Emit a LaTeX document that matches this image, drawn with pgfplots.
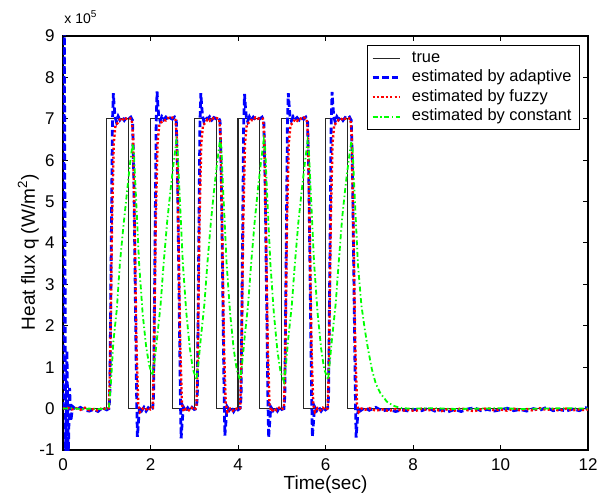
\documentclass[border=0pt]{standalone}
\usepackage{fontspec}
\setmainfont{Liberation Sans}
\usepackage{pgfplots}
\pgfplotsset{compat=1.18}

\definecolor{mblue}{rgb}{0,0,1}
\definecolor{mred}{rgb}{1,0,0}
\definecolor{mgreen}{rgb}{0,1,0}

\begin{document}
\begin{tikzpicture}
\useasboundingbox (-31.5pt,-24.5pt) rectangle (268.5pt,225pt);
\begin{axis}[
    at={(0,0)}, anchor=south west,
    scale only axis, width=262.5pt, height=207pt,
    xmin=0, xmax=12, ymin=-1, ymax=9,
    xtick={0,2,...,12}, ytick={-1,0,...,9},
    tick align=inside, major tick length=2.5pt,
    tick style={black, line width=0.5pt},
    axis line style={line width=0.8pt},
    /pgf/number format/assume math mode=true,
    ticklabel style={font=\fontsize{8.5}{10}\selectfont},
    xticklabel style={anchor=center, yshift=-7.5pt},
    yticklabel style={anchor=east, inner sep=0pt, xshift=-4pt},
    xlabel={Time(sec)},
    ylabel={Heat flux q (W/m\textsuperscript{2})},
    xlabel style={font=\fontsize{9.5}{11}\selectfont, at={(axis description cs:0.5,-0.0845)}, anchor=center},
    ylabel style={font=\fontsize{9.5}{11}\selectfont, at={(axis description cs:-0.066,0.478)}, anchor=center},
    legend cell align=left,
    legend image code/.code={\draw[#1] (0pt,0pt) -- (13.5pt,0pt);},
    legend style={at={(axis description cs:1,1)}, anchor=north east,
        xshift=-4pt, yshift=-4.5pt, draw=black, line width=0.5pt,
        font=\fontsize{8.2}{9.5}\selectfont, inner xsep=2pt, inner ysep=1.5pt,
        nodes={inner ysep=1pt, text height=6pt, text depth=1.75pt},
        /tikz/every odd column/.append style={column sep=3.5pt}},
]
% true heat flux
\addplot[black!85, line width=0.6pt] coordinates {
(0,0) (1,0) (1,7) (1.5,7) (1.5,0) (2,0) (2,7) (2.5,7) (2.5,0)
(3,0) (3,7) (3.5,7) (3.5,0) (4,0) (4,7) (4.5,7) (4.5,0)
(5,0) (5,7) (5.5,7) (5.5,0) (6,0) (6,7) (6.5,7) (6.5,0) (12,0)
};
\addlegendentry{true}

% adaptive
\addplot[mblue, line width=1.4pt, dash pattern=on 3.2pt off 1.6pt] coordinates {
(0,0) (0.03,9.8) (0.06,-1.3) (0.09,1.4) (0.12,-1.2) (0.15,0.5) (0.18,-0.3) (0.22,0.05)
(0.3,-0.02) (0.4,0.03) (0.5,-0.04) (0.6,-0.06) (0.7,-0.02) (0.8,-0.07) (0.9,0.02) (1.0,-0.03)
(1.05,0.0) (1.07,0.3) (1.10,3.6) (1.13,6.9) (1.15,7.62) (1.17,7.3) (1.19,7.05) (1.22,6.93)
(1.26,7.06) (1.30,6.97) (1.35,7.04) (1.40,6.96) (1.45,7.03) (1.50,7.0) (1.55,7.04) (1.59,6.96)
(1.62,5.5) (1.65,3.0) (1.68,0.5) (1.70,-0.68) (1.72,-0.4) (1.75,0.05) (1.80,-0.05) (1.85,0.03)
(1.90,-0.06) (1.95,0.02) (2.0,-0.03)
(2.05,0.01) (2.07,0.3) (2.10,3.6) (2.13,6.9) (2.15,7.66) (2.17,7.3) (2.19,7.04) (2.22,6.95)
(2.26,7.05) (2.30,6.98) (2.35,7.04) (2.40,6.97) (2.45,7.02) (2.50,6.99) (2.55,7.04) (2.59,6.96)
(2.62,5.5) (2.65,3.0) (2.68,0.5) (2.70,-0.72) (2.72,-0.4) (2.75,0.04) (2.80,-0.06) (2.85,0.02)
(2.90,-0.05) (2.95,0.03) (3.0,-0.02)
(3.05,0.0) (3.07,0.3) (3.10,3.6) (3.13,6.9) (3.15,7.62) (3.17,7.3) (3.19,7.06) (3.22,6.94)
(3.26,7.04) (3.30,6.99) (3.35,7.05) (3.40,6.97) (3.45,7.03) (3.50,7.0) (3.55,7.03) (3.59,6.95)
(3.62,5.5) (3.65,3.0) (3.68,0.5) (3.70,-0.65) (3.72,-0.38) (3.75,0.05) (3.80,-0.04) (3.85,0.03)
(3.90,-0.07) (3.95,0.02) (4.0,-0.03)
(4.05,0.01) (4.07,0.3) (4.10,3.6) (4.13,6.9) (4.15,7.6) (4.17,7.28) (4.19,7.05) (4.22,6.94)
(4.26,7.05) (4.30,6.97) (4.35,7.04) (4.40,6.98) (4.45,7.02) (4.50,7.0) (4.55,7.04) (4.59,6.95)
(4.62,5.5) (4.65,3.0) (4.68,0.5) (4.70,-0.7) (4.72,-0.4) (4.75,0.04) (4.80,-0.05) (4.85,0.02)
(4.90,-0.06) (4.95,0.03) (5.0,-0.02)
(5.05,0.0) (5.07,0.3) (5.10,3.6) (5.13,6.9) (5.15,7.62) (5.17,7.3) (5.19,7.04) (5.22,6.95)
(5.26,7.05) (5.30,6.98) (5.35,7.03) (5.40,6.97) (5.45,7.03) (5.50,6.99) (5.55,7.04) (5.59,6.96)
(5.62,5.5) (5.65,3.0) (5.68,0.5) (5.70,-0.68) (5.72,-0.4) (5.75,0.05) (5.80,-0.05) (5.85,0.03)
(5.90,-0.06) (5.95,0.02) (6.0,-0.03)
(6.05,0.01) (6.07,0.3) (6.10,3.6) (6.13,6.9) (6.15,7.65) (6.17,7.3) (6.19,7.05) (6.22,6.93)
(6.26,7.05) (6.30,6.98) (6.35,7.04) (6.40,6.96) (6.45,7.03) (6.50,7.0) (6.55,7.04) (6.59,6.96)
(6.62,5.5) (6.65,3.0) (6.68,0.5) (6.70,-0.7) (6.72,-0.4) (6.75,0.05) (6.8,-0.05) (6.9,0.02)
(7.0,-0.04) (7.15,0.03) (7.3,-0.06) (7.45,-0.02) (7.6,-0.07) (7.75,-0.03) (7.9,-0.06) (8.05,-0.02)
(8.2,-0.05) (8.35,0.01) (8.5,-0.06) (8.65,-0.03) (8.8,-0.08) (8.95,-0.02) (9.1,-0.07) (9.25,-0.01)
(9.4,0.02) (9.55,-0.05) (9.7,-0.02) (9.85,-0.06) (10.0,-0.03) (10.15,0.01) (10.3,-0.05) (10.45,-0.02)
(10.6,-0.06) (10.75,0.0) (10.9,-0.04) (11.05,0.03) (11.2,-0.05) (11.35,-0.02) (11.5,-0.06) (11.65,-0.01)
(11.8,-0.05) (11.95,0.02) (12,-0.02)
};
\addlegendentry{estimated by adaptive}

% fuzzy
\addplot[mred, line width=1.2pt, dash pattern=on 1.1pt off 1.1pt] coordinates {
(0,0) (0.1,0.02) (0.2,-0.02) (0.3,0.01) (0.4,-0.03) (0.5,0.02) (0.6,-0.04) (0.7,-0.01)
(0.8,-0.05) (0.9,0.02) (1.0,-0.02)
(1.05,0.02) (1.08,1.2) (1.12,4.5) (1.16,6.4) (1.20,6.85) (1.25,6.9) (1.30,6.98) (1.35,6.95)
(1.40,7.03) (1.45,7.0) (1.50,7.02) (1.57,7.0) (1.60,6.6) (1.64,4.2) (1.68,1.5) (1.72,0.1)
(1.76,-0.08) (1.82,0.0) (1.88,-0.04) (1.94,0.02) (2.0,-0.02)
(2.05,0.01) (2.08,1.2) (2.12,4.5) (2.16,6.4) (2.20,6.86) (2.25,6.92) (2.30,6.97) (2.35,6.96)
(2.40,7.02) (2.45,7.01) (2.50,7.03) (2.57,7.0) (2.60,6.6) (2.64,4.2) (2.68,1.5) (2.72,0.1)
(2.76,-0.07) (2.82,0.01) (2.88,-0.04) (2.94,0.02) (3.0,-0.03)
(3.05,0.02) (3.08,1.2) (3.12,4.5) (3.16,6.4) (3.20,6.85) (3.25,6.9) (3.30,6.98) (3.35,6.95)
(3.40,7.03) (3.45,7.0) (3.50,7.02) (3.57,7.0) (3.60,6.6) (3.64,4.2) (3.68,1.5) (3.72,0.1)
(3.76,-0.08) (3.82,0.0) (3.88,-0.05) (3.94,0.01) (4.0,-0.02)
(4.05,0.01) (4.08,1.2) (4.12,4.5) (4.16,6.4) (4.20,6.86) (4.25,6.91) (4.30,6.97) (4.35,6.96)
(4.40,7.03) (4.45,7.0) (4.50,7.02) (4.57,7.0) (4.60,6.6) (4.64,4.2) (4.68,1.5) (4.72,0.1)
(4.76,-0.07) (4.82,0.0) (4.88,-0.04) (4.94,0.02) (5.0,-0.02)
(5.05,0.02) (5.08,1.2) (5.12,4.5) (5.16,6.4) (5.20,6.85) (5.25,6.9) (5.30,6.98) (5.35,6.95)
(5.40,7.02) (5.45,7.0) (5.50,7.03) (5.57,7.0) (5.60,6.6) (5.64,4.2) (5.68,1.5) (5.72,0.1)
(5.76,-0.08) (5.82,0.01) (5.88,-0.04) (5.94,0.02) (6.0,-0.03)
(6.05,0.01) (6.08,1.2) (6.12,4.5) (6.16,6.4) (6.20,6.86) (6.25,6.9) (6.30,6.97) (6.35,6.96)
(6.40,7.03) (6.45,7.0) (6.50,7.02) (6.57,7.0) (6.60,6.6) (6.64,4.2) (6.68,1.5) (6.72,0.1)
(6.76,-0.08) (6.82,0.0) (6.9,-0.03) (7.0,0.01) (7.15,-0.05) (7.3,-0.02) (7.45,-0.06) (7.6,-0.01)
(7.75,-0.05) (7.9,-0.03) (8.05,-0.06) (8.2,0.0) (8.35,-0.04) (8.5,-0.02) (8.65,-0.06) (8.8,-0.01)
(8.95,-0.05) (9.1,0.01) (9.25,-0.04) (9.4,-0.06) (9.55,-0.02) (9.7,0.01) (9.85,-0.04) (10.0,-0.02)
(10.15,-0.05) (10.3,0.0) (10.45,-0.04) (10.6,-0.01) (10.75,-0.05) (10.9,0.01) (11.05,-0.03) (11.2,-0.01)
(11.35,-0.05) (11.5,0.0) (11.65,-0.04) (11.8,-0.02) (11.95,-0.04) (12,-0.01)
};
\addlegendentry{estimated by fuzzy}

% constant
\addplot[mgreen, line width=0.9pt, dash pattern=on 2.5pt off 1.3pt on 0.7pt off 1.3pt] coordinates {
(0,0) (0.2,0.01) (0.4,-0.01) (0.6,0.0) (0.8,-0.01) (1.0,0) (1.05,0.02) (1.1,0.7)
(1.15,1.6) (1.23,2.4) (1.3,3.5) (1.38,4.4) (1.46,5.2) (1.53,5.9) (1.59,6.4) (1.62,6.2)
(1.66,5.3) (1.74,3.5) (1.82,2.3) (1.9,1.5) (1.97,1.05) (2.04,0.8)
(2.1,1.2) (2.15,1.7) (2.23,2.5) (2.3,3.5) (2.38,4.5) (2.46,5.3) (2.53,5.95) (2.59,6.45)
(2.62,6.25) (2.66,5.3) (2.74,3.5) (2.82,2.3) (2.9,1.45) (2.97,0.95) (3.05,0.7)
(3.1,1.15) (3.15,1.7) (3.23,2.5) (3.3,3.5) (3.38,4.5) (3.46,5.35) (3.53,6.0) (3.59,6.5)
(3.62,6.3) (3.66,5.3) (3.74,3.5) (3.82,2.3) (3.9,1.45) (3.97,0.95) (4.05,0.68)
(4.1,1.15) (4.15,1.7) (4.23,2.5) (4.3,3.5) (4.38,4.5) (4.46,5.35) (4.53,6.0) (4.59,6.5)
(4.62,6.3) (4.66,5.3) (4.74,3.5) (4.82,2.3) (4.9,1.4) (4.97,0.9) (5.05,0.65)
(5.1,1.1) (5.15,1.7) (5.23,2.5) (5.3,3.5) (5.38,4.5) (5.46,5.3) (5.53,5.95) (5.59,6.45)
(5.62,6.25) (5.66,5.3) (5.74,3.5) (5.82,2.3) (5.9,1.45) (5.97,0.95) (6.06,0.7)
(6.1,1.15) (6.15,1.7) (6.23,2.5) (6.3,3.5) (6.38,4.6) (6.46,5.4) (6.53,6.0) (6.59,6.45)
(6.62,6.25) (6.66,5.3) (6.74,3.5) (6.82,2.5) (6.9,1.9) (6.97,1.45) (7.06,0.95) (7.15,0.6)
(7.25,0.38) (7.4,0.17) (7.55,0.07) (7.7,0.02) (7.9,0.0) (8.5,0.01) (9,-0.01) (9.5,0.0)
(10,0.01) (10.5,-0.01) (11,0.0) (11.5,0.01) (12,0.0)
};
\addlegendentry{estimated by constant}
\end{axis}
\node[anchor=base west, inner sep=0pt, font=\fontsize{7}{8}\selectfont]
    at (0.5pt,213pt) {x 10\textsuperscript{5}};
\end{tikzpicture}
\end{document}
